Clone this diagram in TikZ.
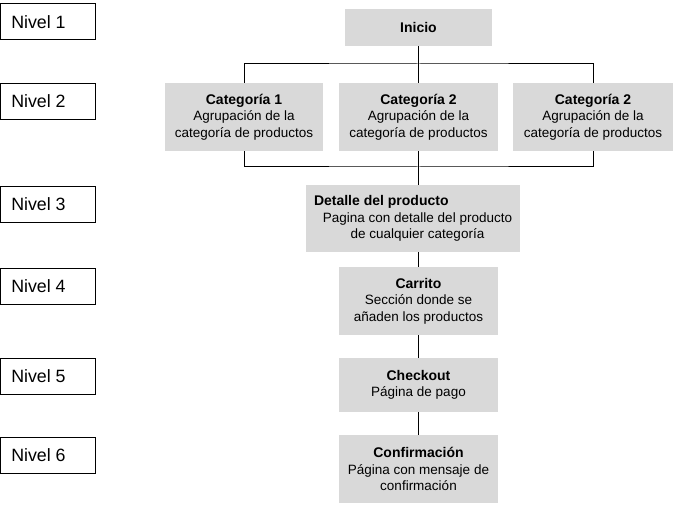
\documentclass[tikz,border=0pt]{standalone}
\usepackage{fontspec}
\setmainfont{Liberation Sans}
\definecolor{boxgray}{RGB}{217,217,217}
\begin{document}
\begin{tikzpicture}[x=1pt,y=-1pt,
  gbox/.style={fill=boxgray, draw=none, minimum width=159pt, minimum height=68pt, inner sep=0pt, align=center, font=\fontsize{13.5}{16.6}\selectfont},
  lvl/.style={draw=black, line width=1pt, minimum width=94.5pt, minimum height=36pt, inner sep=0pt, font=\fontsize{17.8}{20}\selectfont},
  conn/.style={line width=1pt, black}]
\useasboundingbox (0,0) rectangle (696,521);

% level boxes
\node[lvl] (n1) at (47.75,22)    {\makebox[73pt][l]{Nivel 1}};
\node[lvl] (n2) at (47.75,101.5) {\makebox[73pt][l]{Nivel 2}};
\node[lvl] (n3) at (47.75,204.5) {\makebox[73pt][l]{Nivel 3}};
\node[lvl] (n4) at (47.75,286.5) {\makebox[73pt][l]{Nivel 4}};
\node[lvl] (n5) at (47.75,376.5) {\makebox[73pt][l]{Nivel 5}};
\node[lvl] (n6) at (47.75,455.5) {\makebox[73pt][l]{Nivel 6}};

% gray boxes
\node[gbox, minimum width=147pt, minimum height=37pt] (inicio) at (418.5,27.5) {\textbf{\fontsize{14}{16.6}\selectfont Inicio}};
\node[gbox, minimum width=158pt] (cat1) at (244,117)
  {{\fontsize{14}{16.6}\selectfont\bfseries Categoría 1}\\ Agrupación de la\\ categoría de productos};
\node[gbox] (cat2) at (418.5,117)
  {{\fontsize{14}{16.6}\selectfont\bfseries Categoría 2}\\ Agrupación de la\\ categoría de productos};
\node[gbox, minimum width=160pt] (cat3) at (593,117)
  {{\fontsize{14}{16.6}\selectfont\bfseries Categoría 2}\\ Agrupación de la\\ categoría de productos};
\node[gbox, minimum width=214pt, minimum height=67pt] (detalle) at (413,218.5) {};
\node[align=center, inner sep=0pt, font=\fontsize{13.5}{16.6}\selectfont] (detalletxt) at (417.5,218.5)
  {\makebox[191pt][l]{\hspace*{-8pt}{\fontsize{14}{16.6}\selectfont\bfseries Detalle del producto}}\\ Pagina con detalle del producto\\ de cualquier categoría};
\node[gbox] (carrito) at (418.5,301)
  {{\fontsize{14}{16.6}\selectfont\bfseries Carrito}\\ Sección donde se\\ añaden los productos};
\node[gbox, minimum height=54pt] (checkout) at (418.5,385)
  {{\fontsize{14}{16.6}\selectfont\bfseries Checkout}\\ Página de pago};
\node[gbox] (confirm) at (418.5,469)
  {{\fontsize{14}{16.6}\selectfont\bfseries Confirmación}\\ Página con mensaje de\\ confirmación};

% connectors
\coordinate (b1) at (418.5,64);
\coordinate (b2) at (418.5,167);
\draw[conn] (inicio.south) -- (b1);
\draw[conn] (cat1.north) |- (b1) -| (cat3.north);
\draw[conn] (b1) -- (cat2.north);
\draw[conn] (cat1.south) |- (b2) -| (cat3.south);
\draw[conn] (cat2.south) -- (b2) -- (b2 |- detalle.north);
\draw[conn] (carrito.north) -- (carrito.north |- detalle.south);
\draw[conn] (carrito.south) -- (checkout.north);
\draw[conn] (checkout.south) -- (confirm.north);
\end{tikzpicture}
\end{document}
